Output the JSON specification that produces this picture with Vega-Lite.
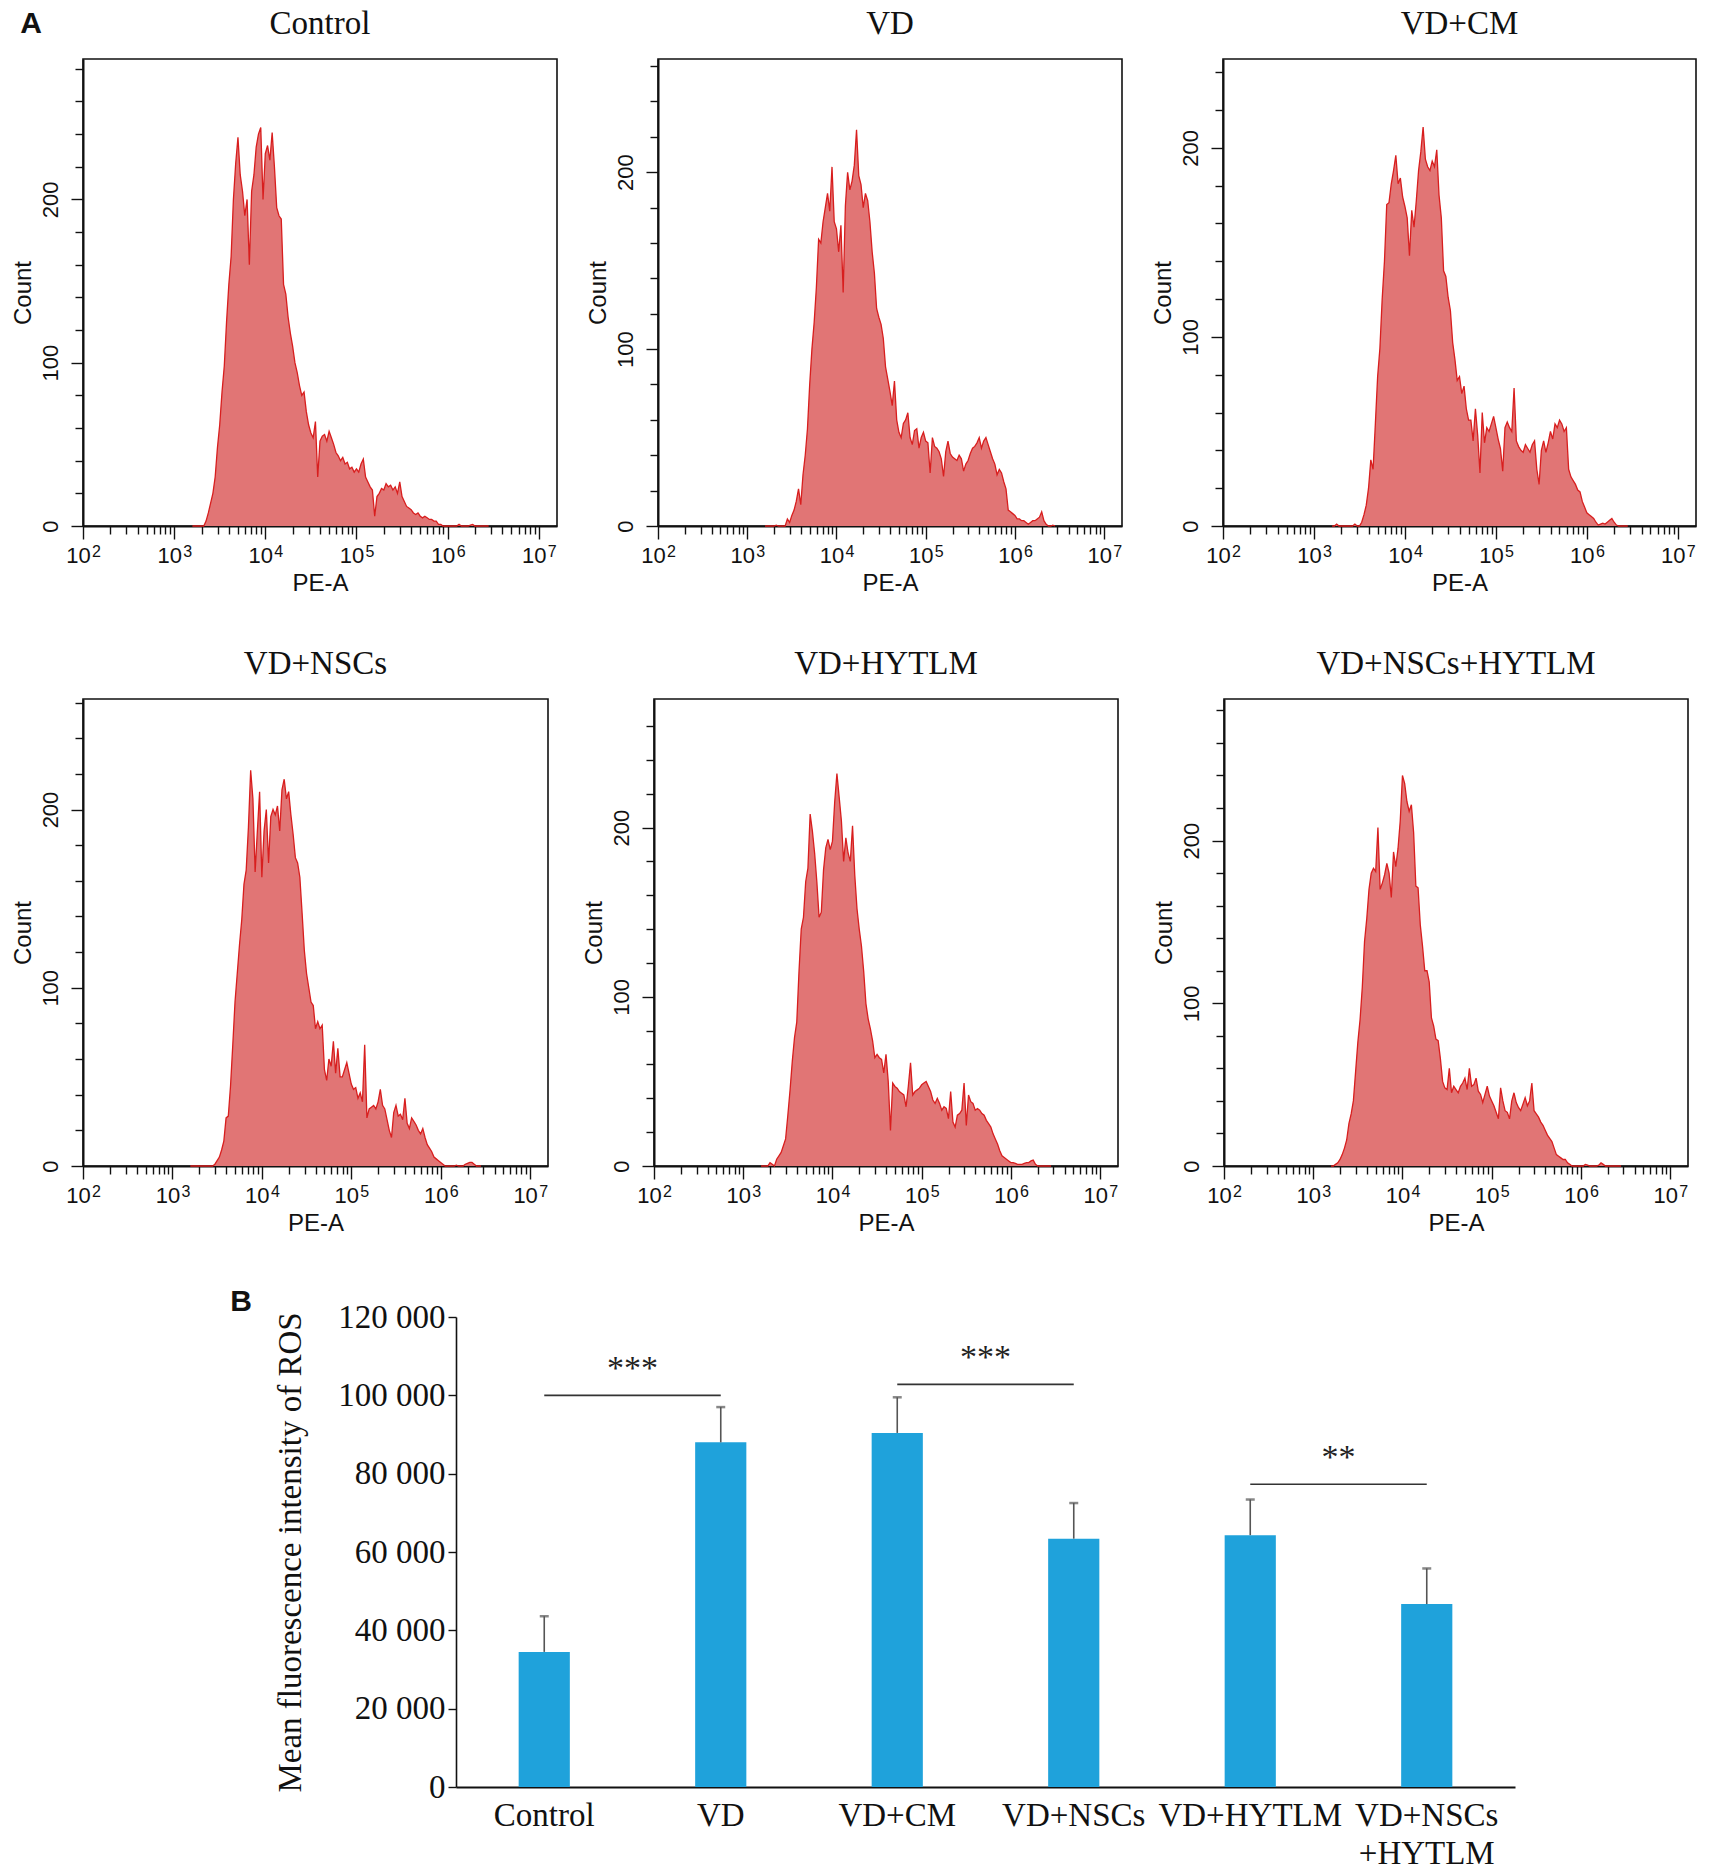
{
  "$schema": "https://vega.github.io/schema/vega-lite/v6.json",
  "description": "ROS flow cytometry histograms (A) and mean fluorescence intensity of ROS (B)",
  "background": "white",
  "padding": {"left": 10, "top": 7, "right": 10, "bottom": 0},
  "title": {"text": "A", "anchor": "start", "frame": "bounds", "font": "Liberation Sans", "fontSize": 30, "fontWeight": "bold", "color": "#111", "offset": 0, "baseline": "top", "dx": 10, "dy": 32},
  "datasets": {
    "hist": [
      {"pe_a": 1585, "ctrl": 0, "vd": 0, "cm": 0, "nscs": 0, "hytlm": 0, "nscs_hytlm": 0},
      {"pe_a": 1679, "ctrl": 0, "vd": 0, "cm": 0, "nscs": 0, "hytlm": 0, "nscs_hytlm": 0},
      {"pe_a": 1778, "ctrl": 0, "vd": 0, "cm": 1, "nscs": 0, "hytlm": 0, "nscs_hytlm": 1},
      {"pe_a": 1884, "ctrl": 0, "vd": 0, "cm": 0, "nscs": 0, "hytlm": 0, "nscs_hytlm": 2},
      {"pe_a": 1995, "ctrl": 0, "vd": 0, "cm": 0, "nscs": 0, "hytlm": 2, "nscs_hytlm": 4},
      {"pe_a": 2113, "ctrl": 0, "vd": 0.5, "cm": 0, "nscs": 0, "hytlm": 1, "nscs_hytlm": 7},
      {"pe_a": 2239, "ctrl": 3, "vd": 0, "cm": 0, "nscs": 0, "hytlm": 0, "nscs_hytlm": 11},
      {"pe_a": 2371, "ctrl": 8, "vd": 0, "cm": 0, "nscs": 0, "hytlm": 4, "nscs_hytlm": 16},
      {"pe_a": 2512, "ctrl": 14, "vd": 0, "cm": 0, "nscs": 0, "hytlm": 6, "nscs_hytlm": 26},
      {"pe_a": 2661, "ctrl": 20, "vd": 0, "cm": 0, "nscs": 0, "hytlm": 8, "nscs_hytlm": 32},
      {"pe_a": 2818, "ctrl": 30, "vd": 4, "cm": 1, "nscs": 0, "hytlm": 12, "nscs_hytlm": 40},
      {"pe_a": 2985, "ctrl": 48, "vd": 2, "cm": 0, "nscs": 1, "hytlm": 16, "nscs_hytlm": 58},
      {"pe_a": 3162, "ctrl": 62, "vd": 6, "cm": 0, "nscs": 3, "hytlm": 30, "nscs_hytlm": 76},
      {"pe_a": 3350, "ctrl": 82, "vd": 9, "cm": 2, "nscs": 5, "hytlm": 45, "nscs_hytlm": 90},
      {"pe_a": 3548, "ctrl": 98, "vd": 14, "cm": 6, "nscs": 9, "hytlm": 62, "nscs_hytlm": 110},
      {"pe_a": 3758, "ctrl": 125, "vd": 21, "cm": 11, "nscs": 14, "hytlm": 76, "nscs_hytlm": 138},
      {"pe_a": 3981, "ctrl": 148, "vd": 12, "cm": 20, "nscs": 27, "hytlm": 85, "nscs_hytlm": 152},
      {"pe_a": 4217, "ctrl": 165, "vd": 29, "cm": 35, "nscs": 28, "hytlm": 115, "nscs_hytlm": 170},
      {"pe_a": 4467, "ctrl": 200, "vd": 40, "cm": 30, "nscs": 45, "hytlm": 140, "nscs_hytlm": 180},
      {"pe_a": 4732, "ctrl": 222, "vd": 55, "cm": 54, "nscs": 68, "hytlm": 147, "nscs_hytlm": 183},
      {"pe_a": 5012, "ctrl": 238, "vd": 80, "cm": 79, "nscs": 92, "hytlm": 168, "nscs_hytlm": 181},
      {"pe_a": 5309, "ctrl": 215, "vd": 100, "cm": 94, "nscs": 108, "hytlm": 176, "nscs_hytlm": 208},
      {"pe_a": 5623, "ctrl": 205, "vd": 115, "cm": 120, "nscs": 124, "hytlm": 208, "nscs_hytlm": 170},
      {"pe_a": 5957, "ctrl": 190, "vd": 135, "cm": 140, "nscs": 138, "hytlm": 198, "nscs_hytlm": 174},
      {"pe_a": 6310, "ctrl": 200, "vd": 162, "cm": 170, "nscs": 158, "hytlm": 185, "nscs_hytlm": 179},
      {"pe_a": 6683, "ctrl": 160, "vd": 160, "cm": 171, "nscs": 166, "hytlm": 168, "nscs_hytlm": 186},
      {"pe_a": 7079, "ctrl": 205, "vd": 172, "cm": 181, "nscs": 190, "hytlm": 147, "nscs_hytlm": 180},
      {"pe_a": 7499, "ctrl": 215, "vd": 180, "cm": 188, "nscs": 222, "hytlm": 150, "nscs_hytlm": 165},
      {"pe_a": 7943, "ctrl": 232, "vd": 188, "cm": 196, "nscs": 206, "hytlm": 175, "nscs_hytlm": 193},
      {"pe_a": 8414, "ctrl": 240, "vd": 178, "cm": 181, "nscs": 165, "hytlm": 188, "nscs_hytlm": 184},
      {"pe_a": 8913, "ctrl": 244, "vd": 203, "cm": 184, "nscs": 188, "hytlm": 193, "nscs_hytlm": 195},
      {"pe_a": 9441, "ctrl": 200, "vd": 172, "cm": 174, "nscs": 210, "hytlm": 187, "nscs_hytlm": 212},
      {"pe_a": 10000, "ctrl": 228, "vd": 168, "cm": 169, "nscs": 162, "hytlm": 192, "nscs_hytlm": 240},
      {"pe_a": 10590, "ctrl": 233, "vd": 155, "cm": 163, "nscs": 188, "hytlm": 215, "nscs_hytlm": 235},
      {"pe_a": 11220, "ctrl": 224, "vd": 170, "cm": 143, "nscs": 200, "hytlm": 232, "nscs_hytlm": 224},
      {"pe_a": 11890, "ctrl": 241, "vd": 132, "cm": 167, "nscs": 170, "hytlm": 218, "nscs_hytlm": 218},
      {"pe_a": 12590, "ctrl": 220, "vd": 181, "cm": 158, "nscs": 196, "hytlm": 204, "nscs_hytlm": 222},
      {"pe_a": 13340, "ctrl": 195, "vd": 200, "cm": 172, "nscs": 200, "hytlm": 180, "nscs_hytlm": 205},
      {"pe_a": 14130, "ctrl": 190, "vd": 190, "cm": 188, "nscs": 197, "hytlm": 194, "nscs_hytlm": 172},
      {"pe_a": 14960, "ctrl": 188, "vd": 195, "cm": 198, "nscs": 202, "hytlm": 185, "nscs_hytlm": 171},
      {"pe_a": 15850, "ctrl": 148, "vd": 204, "cm": 211, "nscs": 188, "hytlm": 180, "nscs_hytlm": 148},
      {"pe_a": 16790, "ctrl": 142, "vd": 224, "cm": 194, "nscs": 211, "hytlm": 201, "nscs_hytlm": 135},
      {"pe_a": 17780, "ctrl": 128, "vd": 198, "cm": 190, "nscs": 217, "hytlm": 172, "nscs_hytlm": 120},
      {"pe_a": 18840, "ctrl": 118, "vd": 193, "cm": 188, "nscs": 206, "hytlm": 152, "nscs_hytlm": 120},
      {"pe_a": 19950, "ctrl": 110, "vd": 180, "cm": 193, "nscs": 210, "hytlm": 140, "nscs_hytlm": 113},
      {"pe_a": 21130, "ctrl": 100, "vd": 188, "cm": 190, "nscs": 197, "hytlm": 130, "nscs_hytlm": 91},
      {"pe_a": 22390, "ctrl": 94, "vd": 184, "cm": 199, "nscs": 186, "hytlm": 115, "nscs_hytlm": 86},
      {"pe_a": 23710, "ctrl": 86, "vd": 172, "cm": 175, "nscs": 173, "hytlm": 96, "nscs_hytlm": 78},
      {"pe_a": 25120, "ctrl": 80, "vd": 155, "cm": 163, "nscs": 170, "hytlm": 87, "nscs_hytlm": 77},
      {"pe_a": 26610, "ctrl": 82, "vd": 143, "cm": 135, "nscs": 162, "hytlm": 81, "nscs_hytlm": 66},
      {"pe_a": 28180, "ctrl": 70, "vd": 123, "cm": 132, "nscs": 142, "hytlm": 74, "nscs_hytlm": 52},
      {"pe_a": 29850, "ctrl": 62, "vd": 118, "cm": 121, "nscs": 121, "hytlm": 64, "nscs_hytlm": 48},
      {"pe_a": 31620, "ctrl": 57, "vd": 114, "cm": 114, "nscs": 108, "hytlm": 66, "nscs_hytlm": 47},
      {"pe_a": 33500, "ctrl": 54, "vd": 106, "cm": 97, "nscs": 100, "hytlm": 64, "nscs_hytlm": 60},
      {"pe_a": 35480, "ctrl": 64, "vd": 90, "cm": 88, "nscs": 92, "hytlm": 63, "nscs_hytlm": 45},
      {"pe_a": 37580, "ctrl": 30, "vd": 83, "cm": 77, "nscs": 90, "hytlm": 55, "nscs_hytlm": 49},
      {"pe_a": 39810, "ctrl": 52, "vd": 76, "cm": 79, "nscs": 77, "hytlm": 66, "nscs_hytlm": 47},
      {"pe_a": 42170, "ctrl": 55, "vd": 68, "cm": 70, "nscs": 81, "hytlm": 50, "nscs_hytlm": 45},
      {"pe_a": 44670, "ctrl": 56, "vd": 82, "cm": 74, "nscs": 77, "hytlm": 21, "nscs_hytlm": 49},
      {"pe_a": 47320, "ctrl": 52, "vd": 60, "cm": 62, "nscs": 79, "hytlm": 49, "nscs_hytlm": 51},
      {"pe_a": 50120, "ctrl": 58, "vd": 53, "cm": 56, "nscs": 54, "hytlm": 47, "nscs_hytlm": 54},
      {"pe_a": 53090, "ctrl": 54, "vd": 50, "cm": 56, "nscs": 48, "hytlm": 46, "nscs_hytlm": 47},
      {"pe_a": 56230, "ctrl": 50, "vd": 58, "cm": 45, "nscs": 60, "hytlm": 44, "nscs_hytlm": 60},
      {"pe_a": 59570, "ctrl": 45, "vd": 60, "cm": 62, "nscs": 56, "hytlm": 43, "nscs_hytlm": 49},
      {"pe_a": 63100, "ctrl": 43, "vd": 64, "cm": 48, "nscs": 70, "hytlm": 42, "nscs_hytlm": 50},
      {"pe_a": 66830, "ctrl": 40, "vd": 50, "cm": 28, "nscs": 52, "hytlm": 35, "nscs_hytlm": 54},
      {"pe_a": 70790, "ctrl": 42, "vd": 46, "cm": 60, "nscs": 66, "hytlm": 47, "nscs_hytlm": 46},
      {"pe_a": 74990, "ctrl": 38, "vd": 54, "cm": 44, "nscs": 50, "hytlm": 61, "nscs_hytlm": 44},
      {"pe_a": 79430, "ctrl": 39, "vd": 55, "cm": 52, "nscs": 50, "hytlm": 42, "nscs_hytlm": 39},
      {"pe_a": 84140, "ctrl": 35, "vd": 44, "cm": 50, "nscs": 54, "hytlm": 44, "nscs_hytlm": 44},
      {"pe_a": 89130, "ctrl": 36, "vd": 50, "cm": 54, "nscs": 58, "hytlm": 45, "nscs_hytlm": 49},
      {"pe_a": 94410, "ctrl": 33, "vd": 53, "cm": 58, "nscs": 52, "hytlm": 46, "nscs_hytlm": 43},
      {"pe_a": 100000, "ctrl": 35, "vd": 48, "cm": 52, "nscs": 46, "hytlm": 48, "nscs_hytlm": 40},
      {"pe_a": 105900, "ctrl": 33, "vd": 47, "cm": 46, "nscs": 43, "hytlm": 49, "nscs_hytlm": 37},
      {"pe_a": 112200, "ctrl": 38, "vd": 30, "cm": 41, "nscs": 44, "hytlm": 50, "nscs_hytlm": 33},
      {"pe_a": 118900, "ctrl": 41, "vd": 50, "cm": 29, "nscs": 38, "hytlm": 47, "nscs_hytlm": 29},
      {"pe_a": 125900, "ctrl": 30, "vd": 45, "cm": 52, "nscs": 41, "hytlm": 44, "nscs_hytlm": 48},
      {"pe_a": 133400, "ctrl": 27, "vd": 44, "cm": 55, "nscs": 36, "hytlm": 39, "nscs_hytlm": 40},
      {"pe_a": 141300, "ctrl": 24, "vd": 42, "cm": 52, "nscs": 68, "hytlm": 37, "nscs_hytlm": 34},
      {"pe_a": 149600, "ctrl": 22, "vd": 38, "cm": 50, "nscs": 27, "hytlm": 40, "nscs_hytlm": 33},
      {"pe_a": 158500, "ctrl": 6, "vd": 28, "cm": 73, "nscs": 32, "hytlm": 37, "nscs_hytlm": 29},
      {"pe_a": 167900, "ctrl": 18, "vd": 42, "cm": 45, "nscs": 33, "hytlm": 33, "nscs_hytlm": 40},
      {"pe_a": 177800, "ctrl": 20, "vd": 48, "cm": 42, "nscs": 34, "hytlm": 35, "nscs_hytlm": 45},
      {"pe_a": 188400, "ctrl": 23, "vd": 41, "cm": 40, "nscs": 32, "hytlm": 34, "nscs_hytlm": 39},
      {"pe_a": 199500, "ctrl": 22, "vd": 39, "cm": 39, "nscs": 36, "hytlm": 28, "nscs_hytlm": 36},
      {"pe_a": 211300, "ctrl": 26, "vd": 38, "cm": 43, "nscs": 43, "hytlm": 44, "nscs_hytlm": 34},
      {"pe_a": 223900, "ctrl": 24, "vd": 37, "cm": 41, "nscs": 34, "hytlm": 26, "nscs_hytlm": 38},
      {"pe_a": 237100, "ctrl": 25, "vd": 40, "cm": 39, "nscs": 32, "hytlm": 23, "nscs_hytlm": 42},
      {"pe_a": 251200, "ctrl": 22, "vd": 38, "cm": 43, "nscs": 26, "hytlm": 30, "nscs_hytlm": 37},
      {"pe_a": 266100, "ctrl": 24, "vd": 31, "cm": 45, "nscs": 20, "hytlm": 31, "nscs_hytlm": 40},
      {"pe_a": 281800, "ctrl": 20, "vd": 35, "cm": 30, "nscs": 16, "hytlm": 33, "nscs_hytlm": 51},
      {"pe_a": 298500, "ctrl": 27, "vd": 37, "cm": 22, "nscs": 30, "hytlm": 49, "nscs_hytlm": 34},
      {"pe_a": 316200, "ctrl": 18, "vd": 41, "cm": 40, "nscs": 34, "hytlm": 24, "nscs_hytlm": 32},
      {"pe_a": 335000, "ctrl": 15, "vd": 44, "cm": 45, "nscs": 28, "hytlm": 42, "nscs_hytlm": 30},
      {"pe_a": 354800, "ctrl": 12, "vd": 45, "cm": 39, "nscs": 29, "hytlm": 38, "nscs_hytlm": 27},
      {"pe_a": 375800, "ctrl": 11, "vd": 47, "cm": 44, "nscs": 26, "hytlm": 37, "nscs_hytlm": 25},
      {"pe_a": 398100, "ctrl": 10, "vd": 50, "cm": 50, "nscs": 38, "hytlm": 33, "nscs_hytlm": 22},
      {"pe_a": 421700, "ctrl": 8, "vd": 44, "cm": 46, "nscs": 24, "hytlm": 34, "nscs_hytlm": 19},
      {"pe_a": 446700, "ctrl": 7, "vd": 48, "cm": 54, "nscs": 21, "hytlm": 33, "nscs_hytlm": 17},
      {"pe_a": 473200, "ctrl": 8, "vd": 50, "cm": 52, "nscs": 27, "hytlm": 31, "nscs_hytlm": 15},
      {"pe_a": 501200, "ctrl": 6, "vd": 46, "cm": 56, "nscs": 25, "hytlm": 30, "nscs_hytlm": 11},
      {"pe_a": 530900, "ctrl": 5, "vd": 42, "cm": 54, "nscs": 23, "hytlm": 27, "nscs_hytlm": 7},
      {"pe_a": 562300, "ctrl": 6, "vd": 38, "cm": 50, "nscs": 20, "hytlm": 25, "nscs_hytlm": 6},
      {"pe_a": 595700, "ctrl": 5, "vd": 35, "cm": 52, "nscs": 18, "hytlm": 23, "nscs_hytlm": 5},
      {"pe_a": 631000, "ctrl": 4, "vd": 29, "cm": 30, "nscs": 21, "hytlm": 19, "nscs_hytlm": 4},
      {"pe_a": 668300, "ctrl": 4, "vd": 32, "cm": 26, "nscs": 16, "hytlm": 16, "nscs_hytlm": 4},
      {"pe_a": 707900, "ctrl": 3, "vd": 30, "cm": 24, "nscs": 12, "hytlm": 13, "nscs_hytlm": 2},
      {"pe_a": 749900, "ctrl": 3, "vd": 25, "cm": 22, "nscs": 10, "hytlm": 9, "nscs_hytlm": 1},
      {"pe_a": 794300, "ctrl": 1, "vd": 21, "cm": 19, "nscs": 8, "hytlm": 6, "nscs_hytlm": 0},
      {"pe_a": 841400, "ctrl": 1, "vd": 9, "cm": 18, "nscs": 5, "hytlm": 5, "nscs_hytlm": 0},
      {"pe_a": 891300, "ctrl": 0, "vd": 8, "cm": 13, "nscs": 4, "hytlm": 4, "nscs_hytlm": 0},
      {"pe_a": 944100, "ctrl": 0, "vd": 7, "cm": 10, "nscs": 3, "hytlm": 3, "nscs_hytlm": 0},
      {"pe_a": 1000000, "ctrl": 0, "vd": 6, "cm": 7, "nscs": 2, "hytlm": 2, "nscs_hytlm": 0},
      {"pe_a": 1059000, "ctrl": 0, "vd": 4, "cm": 6, "nscs": 1, "hytlm": 2, "nscs_hytlm": 0},
      {"pe_a": 1122000, "ctrl": 0, "vd": 4, "cm": 5, "nscs": 0, "hytlm": 1.5, "nscs_hytlm": 1},
      {"pe_a": 1189000, "ctrl": 0, "vd": 3, "cm": 4, "nscs": 0, "hytlm": 1, "nscs_hytlm": 0.5},
      {"pe_a": 1259000, "ctrl": 0, "vd": 3, "cm": 2, "nscs": 0, "hytlm": 1, "nscs_hytlm": 0},
      {"pe_a": 1334000, "ctrl": 1, "vd": 2, "cm": 0.5, "nscs": 0, "hytlm": 1, "nscs_hytlm": 0},
      {"pe_a": 1413000, "ctrl": 0, "vd": 1, "cm": 1, "nscs": 0, "hytlm": 1.5, "nscs_hytlm": 0},
      {"pe_a": 1496000, "ctrl": 0, "vd": 2, "cm": 1.5, "nscs": 0.5, "hytlm": 2, "nscs_hytlm": 0},
      {"pe_a": 1585000, "ctrl": 0, "vd": 3, "cm": 1, "nscs": 0, "hytlm": 2, "nscs_hytlm": 0.5},
      {"pe_a": 1679000, "ctrl": 0, "vd": 3, "cm": 2, "nscs": 0, "hytlm": 3, "nscs_hytlm": 2},
      {"pe_a": 1778000, "ctrl": 0.5, "vd": 4, "cm": 3, "nscs": 0, "hytlm": 3.5, "nscs_hytlm": 1},
      {"pe_a": 1884000, "ctrl": 1, "vd": 5, "cm": 4, "nscs": 1, "hytlm": 1, "nscs_hytlm": 0},
      {"pe_a": 1995000, "ctrl": 0, "vd": 8, "cm": 2, "nscs": 1.5, "hytlm": 0, "nscs_hytlm": 0},
      {"pe_a": 2113000, "ctrl": 0, "vd": 3, "cm": 0.5, "nscs": 2, "hytlm": 0, "nscs_hytlm": 0},
      {"pe_a": 2239000, "ctrl": 0, "vd": 1, "cm": 0, "nscs": 2, "hytlm": 0, "nscs_hytlm": 0},
      {"pe_a": 2371000, "ctrl": 0, "vd": 0, "cm": 0, "nscs": 1, "hytlm": 0, "nscs_hytlm": 0},
      {"pe_a": 2512000, "ctrl": 0, "vd": 0, "cm": 0, "nscs": 0, "hytlm": 0, "nscs_hytlm": 0},
      {"pe_a": 2661000, "ctrl": 0, "vd": 0.5, "cm": 0, "nscs": 0, "hytlm": 0, "nscs_hytlm": 0},
      {"pe_a": 2818000, "ctrl": 0, "vd": 0, "cm": 0, "nscs": 0, "hytlm": 0, "nscs_hytlm": 0}
    ],
    "ros": [
      {"group": "Control", "mean": 34500, "upper": 43600},
      {"group": "VD", "mean": 88000, "upper": 97000},
      {"group": "VD+CM", "mean": 90400, "upper": 99500},
      {"group": "VD+NSCs", "mean": 63400, "upper": 72500},
      {"group": "VD+HYTLM", "mean": 64300, "upper": 73400},
      {"group": "VD+NSCs+HYTLM", "mean": 46700, "upper": 55800}
    ],
    "sig": [
      {"from": "Control", "to": "VD", "level": 100000, "stars": "***"},
      {"from": "VD+CM", "to": "VD+NSCs", "level": 102800, "stars": "***"},
      {"from": "VD+HYTLM", "to": "VD+NSCs+HYTLM", "level": 77300, "stars": "**"}
    ]
  },
  "vconcat": [
    {
      "spacing": 27,
      "hconcat": [
        {
          "title": "Control", "width": 474, "height": 467, "data": {"name": "hist"},
          "layer": [
            {"mark": {"type": "area", "color": "#e17575", "opacity": 1, "line": {"color": "#d81e1e", "strokeWidth": 1.3}},
             "encoding": {
               "x": {"field": "pe_a", "type": "quantitative", "scale": {"type": "log", "domain": [100, 15850000], "nice": false},
                 "axis": {"title": "PE-A", "orient": "bottom", "values": [100,200,300,400,500,600,700,800,900,1000,2000,3000,4000,5000,6000,7000,8000,9000,10000,20000,30000,40000,50000,60000,70000,80000,90000,100000,200000,300000,400000,500000,600000,700000,800000,900000,1000000,2000000,3000000,4000000,5000000,6000000,7000000,8000000,9000000,10000000],
                   "labelExpr": "indexof([100,1000,10000,100000,1000000,10000000], datum.value) >= 0 ? '10' : ''", "labelOffset": -5,
                   "tickSize": {"condition": {"test": "indexof([100,1000,10000,100000,1000000,10000000], datum.value) >= 0", "value": 13}, "value": 8}}},
               "y": {"field": "ctrl", "type": "quantitative", "scale": {"domain": [0, 286], "nice": false},
                 "axis": {"title": "Count", "values": [0,20,40,60,80,100,120,140,160,180,200,220,240,260,280],
                   "labelExpr": "datum.value % 100 === 0 ? datum.label : ''",
                   "tickSize": {"condition": {"test": "datum.value % 100 === 0", "value": 12}, "value": 8}}}
             }},
            {"mark": {"type": "rule", "opacity": 0},
             "encoding": {"x": {"field": "pe_a", "type": "quantitative",
               "axis": {"title": null, "orient": "bottom", "values": [100,1000,10000,100000,1000000,10000000], "labelExpr": "'' + round(log(datum.value) / LN10)",
                 "domain": false, "tickOpacity": 0, "tickSize": 13, "labelFontSize": 16, "labelOffset": 13, "labelPadding": 4}}}}
          ],
          "resolve": {"axis": {"x": "independent"}}
        },
        {
          "title": "VD", "width": 464, "height": 467, "data": {"name": "hist"},
          "layer": [
            {"mark": {"type": "area", "color": "#e17575", "opacity": 1, "line": {"color": "#d81e1e", "strokeWidth": 1.3}},
             "encoding": {
               "x": {"field": "pe_a", "type": "quantitative", "scale": {"type": "log", "domain": [100, 15850000], "nice": false},
                 "axis": {"title": "PE-A", "orient": "bottom", "values": [100,200,300,400,500,600,700,800,900,1000,2000,3000,4000,5000,6000,7000,8000,9000,10000,20000,30000,40000,50000,60000,70000,80000,90000,100000,200000,300000,400000,500000,600000,700000,800000,900000,1000000,2000000,3000000,4000000,5000000,6000000,7000000,8000000,9000000,10000000],
                   "labelExpr": "indexof([100,1000,10000,100000,1000000,10000000], datum.value) >= 0 ? '10' : ''", "labelOffset": -5,
                   "tickSize": {"condition": {"test": "indexof([100,1000,10000,100000,1000000,10000000], datum.value) >= 0", "value": 13}, "value": 8}}},
               "y": {"field": "vd", "type": "quantitative", "scale": {"domain": [0, 264], "nice": false},
                 "axis": {"title": "Count", "values": [0,20,40,60,80,100,120,140,160,180,200,220,240,260],
                   "labelExpr": "datum.value % 100 === 0 ? datum.label : ''",
                   "tickSize": {"condition": {"test": "datum.value % 100 === 0", "value": 12}, "value": 8}}}
             }},
            {"mark": {"type": "rule", "opacity": 0},
             "encoding": {"x": {"field": "pe_a", "type": "quantitative",
               "axis": {"title": null, "orient": "bottom", "values": [100,1000,10000,100000,1000000,10000000], "labelExpr": "'' + round(log(datum.value) / LN10)",
                 "domain": false, "tickOpacity": 0, "tickSize": 13, "labelFontSize": 16, "labelOffset": 13, "labelPadding": 4}}}}
          ],
          "resolve": {"axis": {"x": "independent"}}
        },
        {
          "title": "VD+CM", "width": 473, "height": 467, "data": {"name": "hist"},
          "layer": [
            {"mark": {"type": "area", "color": "#e17575", "opacity": 1, "line": {"color": "#d81e1e", "strokeWidth": 1.3}},
             "encoding": {
               "x": {"field": "pe_a", "type": "quantitative", "scale": {"type": "log", "domain": [100, 15850000], "nice": false},
                 "axis": {"title": "PE-A", "orient": "bottom", "values": [100,200,300,400,500,600,700,800,900,1000,2000,3000,4000,5000,6000,7000,8000,9000,10000,20000,30000,40000,50000,60000,70000,80000,90000,100000,200000,300000,400000,500000,600000,700000,800000,900000,1000000,2000000,3000000,4000000,5000000,6000000,7000000,8000000,9000000,10000000],
                   "labelExpr": "indexof([100,1000,10000,100000,1000000,10000000], datum.value) >= 0 ? '10' : ''", "labelOffset": -5,
                   "tickSize": {"condition": {"test": "indexof([100,1000,10000,100000,1000000,10000000], datum.value) >= 0", "value": 13}, "value": 8}}},
               "y": {"field": "cm", "type": "quantitative", "scale": {"domain": [0, 247], "nice": false},
                 "axis": {"title": "Count", "values": [0,20,40,60,80,100,120,140,160,180,200,220,240],
                   "labelExpr": "datum.value % 100 === 0 ? datum.label : ''",
                   "tickSize": {"condition": {"test": "datum.value % 100 === 0", "value": 12}, "value": 8}}}
             }},
            {"mark": {"type": "rule", "opacity": 0},
             "encoding": {"x": {"field": "pe_a", "type": "quantitative",
               "axis": {"title": null, "orient": "bottom", "values": [100,1000,10000,100000,1000000,10000000], "labelExpr": "'' + round(log(datum.value) / LN10)",
                 "domain": false, "tickOpacity": 0, "tickSize": 13, "labelFontSize": 16, "labelOffset": 13, "labelPadding": 4}}}}
          ],
          "resolve": {"axis": {"x": "independent"}}
        }
      ]
    },
    {
      "spacing": 32,
      "hconcat": [
        {
          "title": "VD+NSCs", "width": 465, "height": 467, "data": {"name": "hist"},
          "layer": [
            {"mark": {"type": "area", "color": "#e17575", "opacity": 1, "line": {"color": "#d81e1e", "strokeWidth": 1.3}},
             "encoding": {
               "x": {"field": "pe_a", "type": "quantitative", "scale": {"type": "log", "domain": [100, 15850000], "nice": false},
                 "axis": {"title": "PE-A", "orient": "bottom", "values": [100,200,300,400,500,600,700,800,900,1000,2000,3000,4000,5000,6000,7000,8000,9000,10000,20000,30000,40000,50000,60000,70000,80000,90000,100000,200000,300000,400000,500000,600000,700000,800000,900000,1000000,2000000,3000000,4000000,5000000,6000000,7000000,8000000,9000000,10000000],
                   "labelExpr": "indexof([100,1000,10000,100000,1000000,10000000], datum.value) >= 0 ? '10' : ''", "labelOffset": -5,
                   "tickSize": {"condition": {"test": "indexof([100,1000,10000,100000,1000000,10000000], datum.value) >= 0", "value": 13}, "value": 8}}},
               "y": {"field": "nscs", "type": "quantitative", "scale": {"domain": [0, 262], "nice": false},
                 "axis": {"title": "Count", "values": [0,20,40,60,80,100,120,140,160,180,200,220,240,260],
                   "labelExpr": "datum.value % 100 === 0 ? datum.label : ''",
                   "tickSize": {"condition": {"test": "datum.value % 100 === 0", "value": 12}, "value": 8}}}
             }},
            {"mark": {"type": "rule", "opacity": 0},
             "encoding": {"x": {"field": "pe_a", "type": "quantitative",
               "axis": {"title": null, "orient": "bottom", "values": [100,1000,10000,100000,1000000,10000000], "labelExpr": "'' + round(log(datum.value) / LN10)",
                 "domain": false, "tickOpacity": 0, "tickSize": 13, "labelFontSize": 16, "labelOffset": 13, "labelPadding": 4}}}}
          ],
          "resolve": {"axis": {"x": "independent"}}
        },
        {
          "title": "VD+HYTLM", "width": 464, "height": 467, "data": {"name": "hist"},
          "layer": [
            {"mark": {"type": "area", "color": "#e17575", "opacity": 1, "line": {"color": "#d81e1e", "strokeWidth": 1.3}},
             "encoding": {
               "x": {"field": "pe_a", "type": "quantitative", "scale": {"type": "log", "domain": [100, 15850000], "nice": false},
                 "axis": {"title": "PE-A", "orient": "bottom", "values": [100,200,300,400,500,600,700,800,900,1000,2000,3000,4000,5000,6000,7000,8000,9000,10000,20000,30000,40000,50000,60000,70000,80000,90000,100000,200000,300000,400000,500000,600000,700000,800000,900000,1000000,2000000,3000000,4000000,5000000,6000000,7000000,8000000,9000000,10000000],
                   "labelExpr": "indexof([100,1000,10000,100000,1000000,10000000], datum.value) >= 0 ? '10' : ''", "labelOffset": -5,
                   "tickSize": {"condition": {"test": "indexof([100,1000,10000,100000,1000000,10000000], datum.value) >= 0", "value": 13}, "value": 8}}},
               "y": {"field": "hytlm", "type": "quantitative", "scale": {"domain": [0, 276], "nice": false},
                 "axis": {"title": "Count", "values": [0,20,40,60,80,100,120,140,160,180,200,220,240,260],
                   "labelExpr": "datum.value % 100 === 0 ? datum.label : ''",
                   "tickSize": {"condition": {"test": "datum.value % 100 === 0", "value": 12}, "value": 8}}}
             }},
            {"mark": {"type": "rule", "opacity": 0},
             "encoding": {"x": {"field": "pe_a", "type": "quantitative",
               "axis": {"title": null, "orient": "bottom", "values": [100,1000,10000,100000,1000000,10000000], "labelExpr": "'' + round(log(datum.value) / LN10)",
                 "domain": false, "tickOpacity": 0, "tickSize": 13, "labelFontSize": 16, "labelOffset": 13, "labelPadding": 4}}}}
          ],
          "resolve": {"axis": {"x": "independent"}}
        },
        {
          "title": "VD+NSCs+HYTLM", "width": 464, "height": 467, "data": {"name": "hist"},
          "layer": [
            {"mark": {"type": "area", "color": "#e17575", "opacity": 1, "line": {"color": "#d81e1e", "strokeWidth": 1.3}},
             "encoding": {
               "x": {"field": "pe_a", "type": "quantitative", "scale": {"type": "log", "domain": [100, 15850000], "nice": false},
                 "axis": {"title": "PE-A", "orient": "bottom", "values": [100,200,300,400,500,600,700,800,900,1000,2000,3000,4000,5000,6000,7000,8000,9000,10000,20000,30000,40000,50000,60000,70000,80000,90000,100000,200000,300000,400000,500000,600000,700000,800000,900000,1000000,2000000,3000000,4000000,5000000,6000000,7000000,8000000,9000000,10000000],
                   "labelExpr": "indexof([100,1000,10000,100000,1000000,10000000], datum.value) >= 0 ? '10' : ''", "labelOffset": -5,
                   "tickSize": {"condition": {"test": "indexof([100,1000,10000,100000,1000000,10000000], datum.value) >= 0", "value": 13}, "value": 8}}},
               "y": {"field": "nscs_hytlm", "type": "quantitative", "scale": {"domain": [0, 287], "nice": false},
                 "axis": {"title": "Count", "values": [0,20,40,60,80,100,120,140,160,180,200,220,240,260,280],
                   "labelExpr": "datum.value % 100 === 0 ? datum.label : ''",
                   "tickSize": {"condition": {"test": "datum.value % 100 === 0", "value": 12}, "value": 8}}}
             }},
            {"mark": {"type": "rule", "opacity": 0},
             "encoding": {"x": {"field": "pe_a", "type": "quantitative",
               "axis": {"title": null, "orient": "bottom", "values": [100,1000,10000,100000,1000000,10000000], "labelExpr": "'' + round(log(datum.value) / LN10)",
                 "domain": false, "tickOpacity": 0, "tickSize": 13, "labelFontSize": 16, "labelOffset": 13, "labelPadding": 4}}}}
          ],
          "resolve": {"axis": {"x": "independent"}}
        }
      ]
    },
    {
      "spacing": 22,
      "hconcat": [
        {
          "width": 169, "height": 10,
          "view": {"stroke": null},
          "title": {"text": "B", "anchor": "end", "frame": "group", "font": "Liberation Sans", "fontSize": 30, "fontWeight": "bold", "color": "#111", "offset": 0},
          "data": {"values": []},
          "mark": "point"
        },
        {
          "width": 1059, "height": 470,
          "view": {"stroke": null},
          "layer": [
            {
              "data": {"name": "ros"},
              "mark": {"type": "bar", "color": "#1fa2db", "width": {"band": 0.29}},
              "encoding": {
                "x": {"field": "group", "type": "nominal", "sort": null,
                  "scale": {"domain": ["Control", "VD", "VD+CM", "VD+NSCs", "VD+HYTLM", "VD+NSCs+HYTLM"], "paddingInner": 0, "paddingOuter": 0},
                  "axis": {"title": null, "labelAngle": 0, "labelFont": "Liberation Serif", "labelFontSize": 33, "labelPadding": 12, "labelBaseline": "top", "labelLineHeight": 38, "labelLimit": 400, "ticks": false, "domainWidth": 2, "labelOverlap": false, "labelFlush": false,
                    "labelExpr": "datum.label === 'VD+NSCs+HYTLM' ? ['VD+NSCs', '+HYTLM'] : datum.label"}},
                "y": {"field": "mean", "type": "quantitative", "scale": {"domain": [0, 120000], "nice": false},
                  "axis": {"title": "Mean fluorescence intensity of ROS", "values": [0, 20000, 40000, 60000, 80000, 100000, 120000],
                    "labelExpr": "replace(format(datum.value, ','), ',', ' ')",
                    "labelAngle": 0, "labelAlign": "right", "labelBaseline": "middle", "labelFont": "Liberation Serif", "labelFontSize": 33, "labelPadding": 3, "labelLimit": 400,
                    "tickSize": 8, "titleFont": "Liberation Serif", "titleFontSize": 33, "titlePadding": 30, "titleLimit": 800, "domainWidth": 1.6}}
              }
            },
            {
              "data": {"name": "ros"},
              "mark": {"type": "rule", "color": "#555", "strokeWidth": 1.6},
              "encoding": {
                "x": {"field": "group", "type": "nominal", "sort": null},
                "y": {"field": "mean", "type": "quantitative"},
                "y2": {"field": "upper"}
              }
            },
            {
              "data": {"name": "ros"},
              "mark": {"type": "tick", "color": "#555", "thickness": 2.5, "size": 9},
              "encoding": {
                "x": {"field": "group", "type": "nominal", "sort": null},
                "y": {"field": "upper", "type": "quantitative"}
              }
            },
            {
              "data": {"name": "sig"},
              "mark": {"type": "rule", "color": "#333", "strokeWidth": 1.6},
              "encoding": {
                "x": {"field": "from", "type": "nominal", "sort": null},
                "x2": {"field": "to"},
                "y": {"field": "level", "type": "quantitative"}
              }
            },
            {
              "data": {"name": "sig"},
              "mark": {"type": "text", "font": "Liberation Serif", "fontSize": 34, "baseline": "alphabetic", "dy": -16, "color": "#222"},
              "encoding": {
                "x": {"field": "from", "type": "nominal", "sort": null, "bandPosition": 1},
                "y": {"field": "level", "type": "quantitative"},
                "text": {"field": "stars"}
              }
            }
          ]
        }
      ]
    }
  ],
  "spacing": 51,
  "config": {
    "view": {"stroke": "#111", "strokeWidth": 1.6},
    "title": {"font": "Liberation Serif", "fontSize": 33, "fontWeight": "normal", "color": "#111", "offset": 18},
    "axis": {"grid": false, "zindex": 1, "domainColor": "#111", "domainWidth": 2, "tickColor": "#111", "tickWidth": 1.4,
      "labelColor": "#111", "labelFont": "Liberation Sans", "labelFontSize": 22, "labelOverlap": false,
      "titleColor": "#111", "titleFont": "Liberation Sans", "titleFontSize": 24, "titleFontWeight": "normal"},
    "axisX": {"labelFlush": false, "labelPadding": 6, "titlePadding": 5},
    "axisY": {"labelAngle": 270, "labelAlign": "center", "labelBaseline": "bottom", "labelPadding": 9, "titlePadding": 4}
  }
}
